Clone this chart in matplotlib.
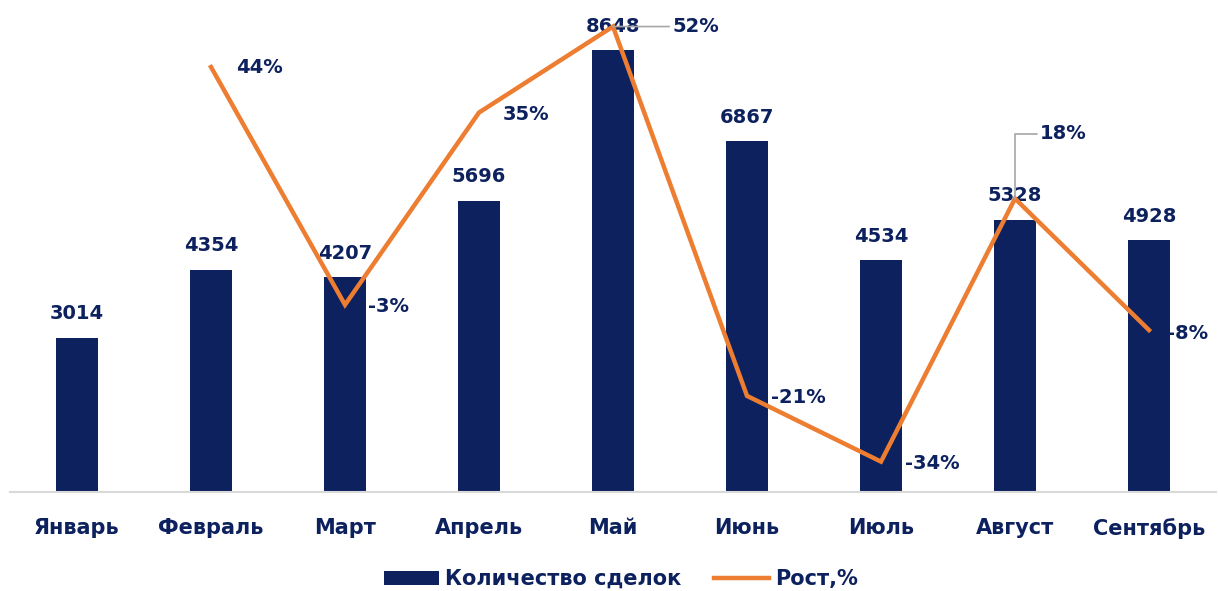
#!/usr/bin/env python3
"""Monthly deal count (bars) with month-over-month growth (line)."""

import matplotlib
matplotlib.use("Agg")
import matplotlib.pyplot as plt
import numpy as np

months = ['Январь', 'Февраль', 'Март', 'Апрель', 'Май', 'Июнь', 'Июль', 'Август', 'Сентябрь']
deals = [3014, 4354, 4207, 5696, 8648, 6867, 4534, 5328, 4928]
growth = [None, 0.44, -0.03, 0.35, 0.52, -0.21, -0.34, 0.18, -0.08]

NAVY = '#0c215e'
ORANGE = '#ED7D31'
FONT = 'DejaVu Sans'


def main():
    plt.rcParams['font.family'] = FONT
    fig = plt.figure(figsize=(12.18, 5.91), dpi=100)
    ax = fig.add_axes([10 / 1218, 99 / 591, 1206 / 1218, 511 / 591])
    ax2 = ax.twinx()

    x = np.arange(len(months))
    bars = ax.bar(x, deals, width=0.31, color=NAVY, label='Количество сделок', zorder=2)
    ax.set_xlim(-0.5, len(months) - 0.5)
    ax.set_ylim(0, 10000)

    # value labels above bars
    for xi, v in zip(x, deals):
        ax.annotate(str(v), (xi, v), xytext=(0, 24), textcoords='offset pixels',
                    ha='center', va='center', fontsize=14, fontweight='bold', color=NAVY)

    gx = [xi for xi, g in zip(x, growth) if g is not None]
    gy = [g for g in growth if g is not None]
    line, = ax2.plot(gx, gy, color=ORANGE, linewidth=3.2, label='Рост,%',
                     solid_joinstyle='miter', zorder=3)
    ax2.set_ylim(-0.40, 0.61)

    # growth labels, offsets in pixels from the point
    offsets = {1: (25, 0), 2: (23, -2), 3: (24, -2), 4: (59, 0), 5: (24, -2),
               6: (24, -2), 7: (25, 65), 8: (18, -3)}
    for xi, g in zip(gx, gy):
        dx, dy = offsets[xi]
        kw = {}
        if xi == 4:
            kw['arrowprops'] = dict(arrowstyle='-', color='#a6a6a6', lw=1.2,
                                    shrinkA=0, shrinkB=0, relpos=(0, 0.5))
        elif xi == 7:
            kw['arrowprops'] = dict(arrowstyle='-', color='#a6a6a6', lw=1.2,
                                    shrinkA=0, shrinkB=0, relpos=(0, 0.5),
                                    connectionstyle='angle,angleA=0,angleB=90,rad=0')
        ax2.annotate(f'{g * 100:.0f}%', (xi, g), xytext=(dx, dy), textcoords='offset pixels',
                     ha='left', va='center', fontsize=14, fontweight='bold', color=NAVY, **kw)

    for a in (ax, ax2):
        a.set_yticks([])
        for side in ('top', 'left', 'right', 'bottom'):
            a.spines[side].set_visible(False)
    ax.spines['bottom'].set_visible(True)
    ax.spines['bottom'].set_color('#d9d9d9')
    ax.spines['bottom'].set_linewidth(1.5)

    ax.set_xticks(x)
    ax.set_xticklabels(months, fontsize=15, fontweight='bold', color=NAVY)
    ax.tick_params(axis='x', length=0, pad=19)

    leg = fig.legend([bars, line], ['Количество сделок', 'Рост,%'], loc='center',
                     bbox_to_anchor=(621 / 1218, 1 - 579 / 591), ncol=2, frameon=False,
                     prop={'size': 15, 'weight': 'bold'}, handlelength=2.6,
                     handleheight=0.65, columnspacing=1.6, handletextpad=0.3)
    for t in leg.get_texts():
        t.set_color(NAVY)

    fig.savefig('out.png', dpi=100)


if __name__ == "__main__":
    main()
